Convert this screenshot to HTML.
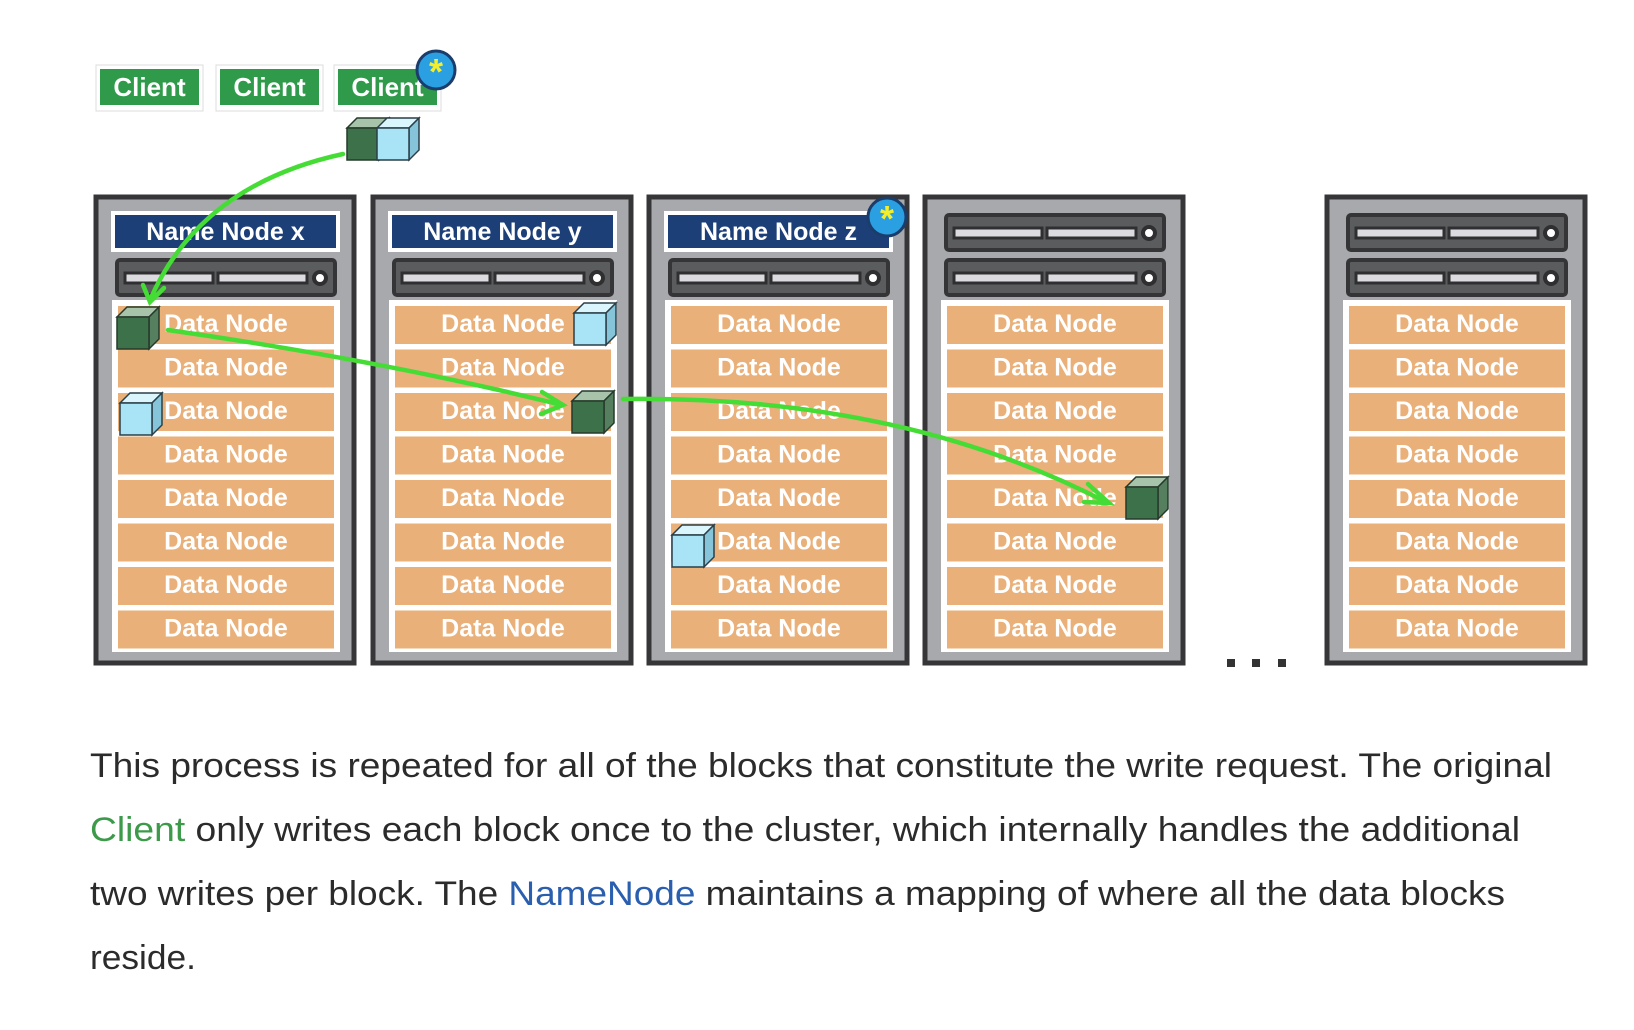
<!DOCTYPE html>
<html><head><meta charset="utf-8"><style>
html,body{margin:0;padding:0;background:#fff;width:1634px;height:1030px;overflow:hidden}
svg{display:block}
.dn{font-family:"Liberation Sans",Arial,sans-serif;font-weight:bold;font-size:25px;fill:#fff;text-anchor:middle}
.nn{font-family:"Liberation Sans",Arial,sans-serif;font-weight:bold;font-size:25px;fill:#fff;text-anchor:middle}
.cl{font-family:"Liberation Sans",Arial,sans-serif;font-weight:bold;font-size:26px;fill:#fff;text-anchor:middle}
.p{font-family:"Liberation Sans",Arial,sans-serif;font-size:34px;fill:#2b2b2b}
</style></head><body>
<svg width="1634" height="1030" viewBox="0 0 1634 1030" xmlns="http://www.w3.org/2000/svg">
<defs>
<g id="unit">
<rect x="0" y="0" width="218" height="35" rx="3" fill="#5b5c5e" stroke="#353537" stroke-width="4"/>
<rect x="8" y="13" width="88" height="10" fill="#dcdce0" stroke="#2f2f31" stroke-width="3"/>
<rect x="101" y="13" width="89" height="10" fill="#dcdce0" stroke="#2f2f31" stroke-width="3"/>
<circle cx="203" cy="18" r="6" fill="#fff" stroke="#2f2f31" stroke-width="4"/>
</g>
<g id="rack">
<rect x="0" y="0" width="258" height="466" fill="#a7a9ac" stroke="#363638" stroke-width="5"/>
<rect x="16" y="103" width="228" height="352" fill="#fff"/>
<rect x="22" y="109" width="216" height="38" fill="#e9b07a"/>
<rect x="22" y="152.5" width="216" height="38" fill="#e9b07a"/>
<rect x="22" y="196" width="216" height="38" fill="#e9b07a"/>
<rect x="22" y="239.5" width="216" height="38" fill="#e9b07a"/>
<rect x="22" y="283" width="216" height="38" fill="#e9b07a"/>
<rect x="22" y="326.5" width="216" height="38" fill="#e9b07a"/>
<rect x="22" y="370" width="216" height="38" fill="#e9b07a"/>
<rect x="22" y="413.5" width="216" height="38" fill="#e9b07a"/>
</g>
<g id="gcube">
<polygon points="0,10 10,0 42,0 32,10" fill="#a7c3aa" stroke="#263a2b" stroke-width="1.5"/>
<polygon points="32,10 42,0 42,32 32,42" fill="#557f5e" stroke="#263a2b" stroke-width="1.5"/>
<rect x="0" y="10" width="32" height="32" fill="#3d7149" stroke="#263a2b" stroke-width="1.5"/>
</g>
<g id="bcube">
<polygon points="0,10 10,0 42,0 32,10" fill="#dbf5fd" stroke="#2b3f48" stroke-width="1.5"/>
<polygon points="32,10 42,0 42,32 32,42" fill="#86c4da" stroke="#2b3f48" stroke-width="1.5"/>
<rect x="0" y="10" width="32" height="32" fill="#a9e3f6" stroke="#2b3f48" stroke-width="1.5"/>
</g>
<g id="star">
<circle r="19" fill="#2aa0e2" stroke="#1b3d6b" stroke-width="3"/>
<text x="0" y="14" font-family="Liberation Sans,sans-serif" font-weight="bold" font-size="36" fill="#f5ee2a" text-anchor="middle">*</text>
</g>
</defs>

<!-- clients -->
<rect x="96" y="65" width="107" height="46" fill="#fff" stroke="#ddd" stroke-width="1"/>
<rect x="100" y="69" width="99" height="36" fill="#2f9a4a"/>
<text class="cl" x="149.5" y="96">Client</text>
<rect x="216" y="65" width="107" height="46" fill="#fff" stroke="#ddd" stroke-width="1"/>
<rect x="220" y="69" width="99" height="36" fill="#2f9a4a"/>
<text class="cl" x="269.5" y="96">Client</text>
<rect x="334" y="65" width="107" height="46" fill="#fff" stroke="#ddd" stroke-width="1"/>
<rect x="338" y="69" width="99" height="36" fill="#2f9a4a"/>
<text class="cl" x="387.5" y="96">Client</text>
<use href="#star" x="436" y="70"/>
<use href="#gcube" x="347" y="118"/>
<use href="#bcube" x="377" y="118"/>

<!-- racks -->
<g transform="translate(96,197)"><use href="#rack"/>
<rect x="15" y="14" width="229" height="41" fill="#fff"/><rect x="19" y="18" width="221" height="33" fill="#1d3f78"/>
<text class="nn" x="129.5" y="43">Name Node x</text>
<use href="#unit" x="21" y="63"/></g>
<g transform="translate(373,197)"><use href="#rack"/>
<rect x="15" y="14" width="229" height="41" fill="#fff"/><rect x="19" y="18" width="221" height="33" fill="#1d3f78"/>
<text class="nn" x="129.5" y="43">Name Node y</text>
<use href="#unit" x="21" y="63"/></g>
<g transform="translate(649,197)"><use href="#rack"/>
<rect x="15" y="14" width="229" height="41" fill="#fff"/><rect x="19" y="18" width="221" height="33" fill="#1d3f78"/>
<text class="nn" x="129.5" y="43">Name Node z</text>
<use href="#unit" x="21" y="63"/></g>
<use href="#star" x="887" y="217"/>
<g transform="translate(925,197)"><use href="#rack"/>
<use href="#unit" x="21" y="18"/><use href="#unit" x="21" y="63"/></g>
<g transform="translate(1327,197)"><use href="#rack"/>
<use href="#unit" x="21" y="18"/><use href="#unit" x="21" y="63"/></g>

<!-- Data Node labels -->
<g class="dn">
<text x="226" y="332">Data Node</text><text x="226" y="375.5">Data Node</text><text x="226" y="419">Data Node</text><text x="226" y="462.5">Data Node</text><text x="226" y="506">Data Node</text><text x="226" y="549.5">Data Node</text><text x="226" y="593">Data Node</text><text x="226" y="636.5">Data Node</text>
<text x="503" y="332">Data Node</text><text x="503" y="375.5">Data Node</text><text x="503" y="419">Data Node</text><text x="503" y="462.5">Data Node</text><text x="503" y="506">Data Node</text><text x="503" y="549.5">Data Node</text><text x="503" y="593">Data Node</text><text x="503" y="636.5">Data Node</text>
<text x="779" y="332">Data Node</text><text x="779" y="375.5">Data Node</text><text x="779" y="419">Data Node</text><text x="779" y="462.5">Data Node</text><text x="779" y="506">Data Node</text><text x="779" y="549.5">Data Node</text><text x="779" y="593">Data Node</text><text x="779" y="636.5">Data Node</text>
<text x="1055" y="332">Data Node</text><text x="1055" y="375.5">Data Node</text><text x="1055" y="419">Data Node</text><text x="1055" y="462.5">Data Node</text><text x="1055" y="506">Data Node</text><text x="1055" y="549.5">Data Node</text><text x="1055" y="593">Data Node</text><text x="1055" y="636.5">Data Node</text>
<text x="1457" y="332">Data Node</text><text x="1457" y="375.5">Data Node</text><text x="1457" y="419">Data Node</text><text x="1457" y="462.5">Data Node</text><text x="1457" y="506">Data Node</text><text x="1457" y="549.5">Data Node</text><text x="1457" y="593">Data Node</text><text x="1457" y="636.5">Data Node</text>
</g>

<!-- cubes in racks -->
<use href="#gcube" x="117" y="307"/>
<use href="#bcube" x="120" y="393"/>
<use href="#bcube" x="574" y="303"/>
<use href="#gcube" x="572" y="391"/>
<use href="#bcube" x="672" y="525"/>
<use href="#gcube" x="1126" y="477"/>

<!-- arrows -->
<g fill="none" stroke="#45dc35" stroke-width="4.5" stroke-linecap="round">
<path d="M343,154 Q200,185 150,300"/>
<path d="M143,285 L150,302 L164,288"/>
<path d="M168,330 Q380,360 562,405"/>
<path d="M542,392 L563,405 L541,414"/>
<path d="M623,399 Q900,395 1108,503"/>
<path d="M1088,484 L1109,503 L1084,502"/>
</g>

<!-- dots -->
<rect x="1227" y="659" width="8" height="8" fill="#333"/>
<rect x="1252" y="659" width="8" height="8" fill="#333"/>
<rect x="1278" y="659" width="8" height="8" fill="#333"/>

<!-- paragraph -->
<text class="p" x="90" y="777" textLength="1462" lengthAdjust="spacingAndGlyphs">This process is repeated for all of the blocks that constitute the write request. The original</text>
<text class="p" x="90" y="841" textLength="1430" lengthAdjust="spacingAndGlyphs"><tspan fill="#3d9a4a">Client</tspan> only writes each block once to the cluster, which internally handles the additional</text>
<text class="p" x="90" y="905" textLength="1415" lengthAdjust="spacingAndGlyphs">two writes per block. The <tspan fill="#2a5fb0">NameNode</tspan> maintains a mapping of where all the data blocks</text>
<text class="p" x="90" y="969" textLength="106" lengthAdjust="spacingAndGlyphs">reside.</text>
</svg>
</body></html>
